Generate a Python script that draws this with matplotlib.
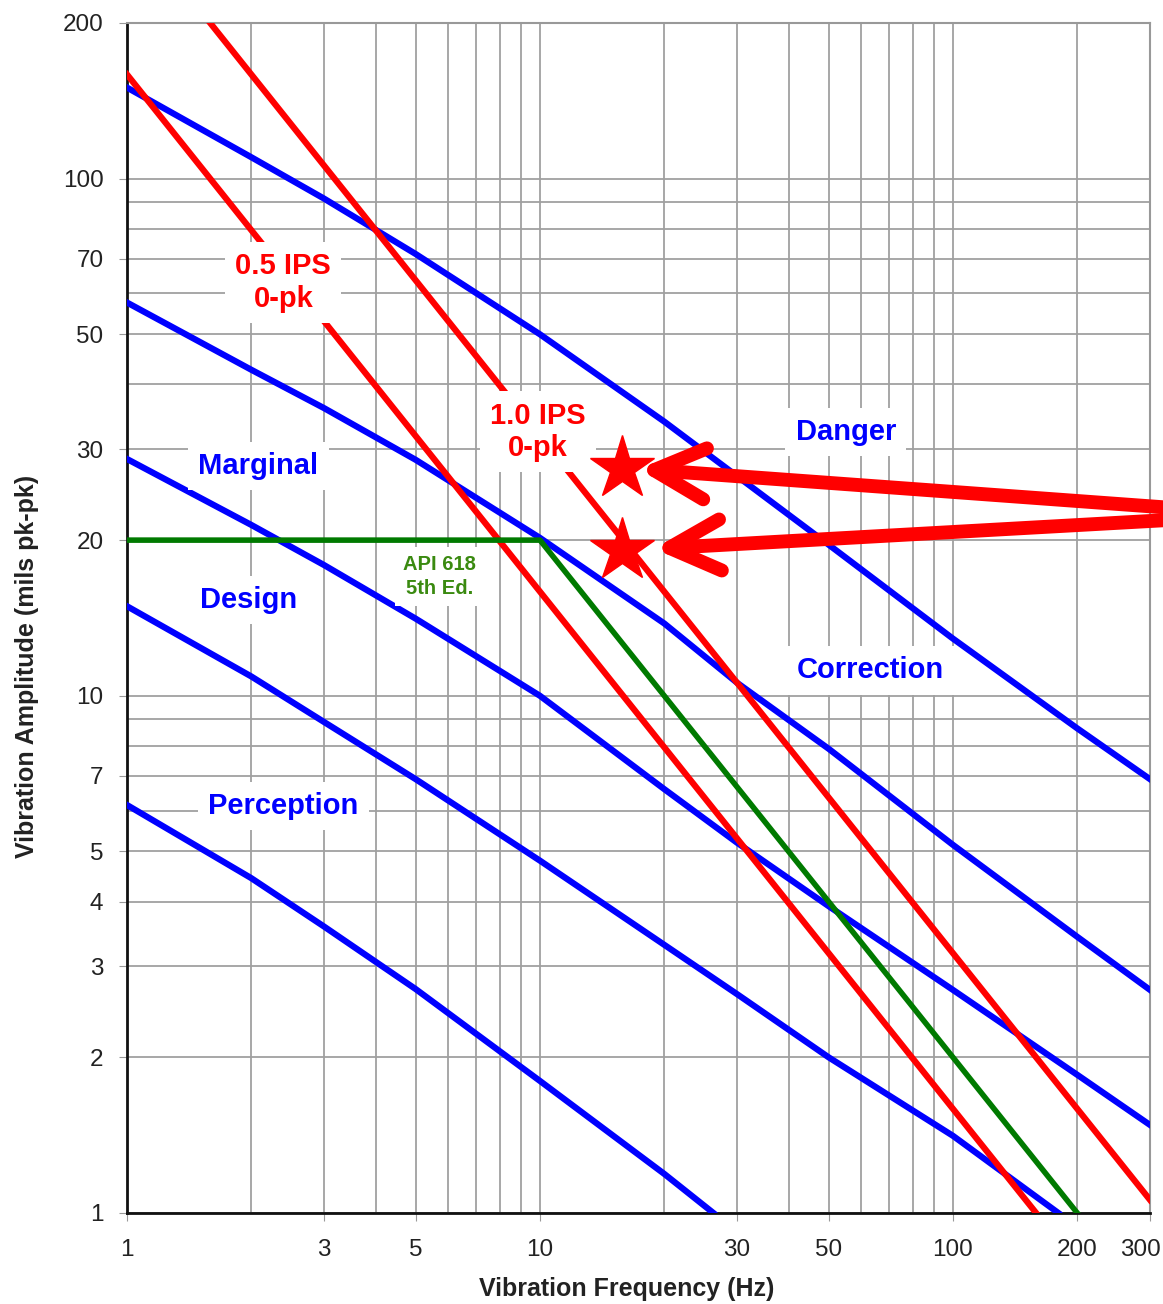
import matplotlib
matplotlib.use("Agg")
import matplotlib.pyplot as plt
import matplotlib.transforms as mtransforms
from matplotlib.ticker import FixedLocator, NullFormatter

plt.rcParams["font.family"] = ["Liberation Sans", "DejaVu Sans"]

# severity boundaries (blue): frequency (Hz) -> mils pk-pk
f_danger = [1, 2, 3, 5, 10, 20, 30, 50, 100, 200, 300]
d_danger = [150, 110, 91.5, 71.5, 50, 33.9, 26.6, 19.6, 12.9, 8.65, 6.9]
f_correction = [1, 2, 3, 5, 10, 20, 30, 50, 100, 200, 300]
d_correction = [57.6, 42.7, 36, 28.6, 20.2, 13.8, 10.6, 7.9, 5.15, 3.42, 2.7]
f_marginal = [1, 2, 3, 5, 10, 20, 30, 50, 100, 200, 300]
d_marginal = [28.7, 21.4, 17.9, 14.1, 10.0, 6.6, 5.2, 3.92, 2.70, 1.85, 1.48]
f_design = [1, 2, 3, 5, 10, 20, 30, 50, 100, 180]
d_design = [14.9, 10.9, 8.9, 6.9, 4.8, 3.3, 2.65, 2.0, 1.41, 1.0]
f_perception = [1, 2, 3, 5, 10, 20, 26.3]
d_perception = [6.15, 4.44, 3.58, 2.71, 1.80, 1.19, 1.0]

# constant velocity lines (red)
f_ips05 = [1, 159]
d_ips05 = [159, 1]
f_ips10 = [1.59, 300]
d_ips10 = [200, 1.06]

# API 618 limit (green)
f_api = [1, 10, 200]
d_api = [20, 20, 1]

# marked points
star_f = [15.8, 15.8]
star_d = [27.6, 19.1]

xticks = [1, 3, 5, 10, 30, 50, 100, 200, 300]
yticks = [1, 2, 3, 4, 5, 7, 10, 20, 30, 50, 70, 100, 200]

fig = plt.figure(figsize=(11.63, 13.04), dpi=100)
ax = fig.add_axes([0.1092, 0.0698, 0.8796, 0.9126])
ax.set_xscale("log")
ax.set_yscale("log")
ax.set_xlim(1, 300)
ax.set_ylim(1, 200)

grid_vals = [m * 10 ** e for e in range(0, 3) for m in range(1, 10)]
ax.xaxis.set_major_locator(FixedLocator(xticks))
ax.xaxis.set_minor_locator(FixedLocator(grid_vals))
ax.yaxis.set_major_locator(FixedLocator(yticks))
ax.yaxis.set_minor_locator(FixedLocator(grid_vals))
ax.set_xticklabels([str(t) for t in xticks])
ax.set_yticklabels([str(t) for t in yticks])
ax.xaxis.set_minor_formatter(NullFormatter())
ax.yaxis.set_minor_formatter(NullFormatter())
ax.tick_params(which="major", length=6, color="#999999", labelsize=17.5,
               labelcolor="#222222")
ax.tick_params(axis="x", which="major", pad=13)
ax.tick_params(axis="y", which="major", pad=11)
ax.tick_params(which="minor", length=0)
ax.grid(which="both", color="#a0a0a0", linewidth=1.3)
ax.set_axisbelow(True)

# last x label sits a bit left so it stays inside the figure
lab = ax.get_xticklabels()[-1]
lab.set_transform(lab.get_transform() +
                  mtransforms.ScaledTranslation(-10 / 100, 0, fig.dpi_scale_trans))

for s in ["top", "right"]:
    ax.spines[s].set_color("#999999")
    ax.spines[s].set_linewidth(1.5)
for s in ["left", "bottom"]:
    ax.spines[s].set_color("#111111")
    ax.spines[s].set_linewidth(2)

lw = 4.5
ax.plot(f_danger, d_danger, color="#0000ff", lw=lw, zorder=3)
ax.plot(f_correction, d_correction, color="#0000ff", lw=lw, zorder=3)
ax.plot(f_marginal, d_marginal, color="#0000ff", lw=lw, zorder=3)
ax.plot(f_design, d_design, color="#0000ff", lw=lw, zorder=3)
ax.plot(f_perception, d_perception, color="#0000ff", lw=lw, zorder=3)
ax.plot(f_ips05, d_ips05, color="#ff0000", lw=lw, zorder=3)
ax.plot(f_ips10, d_ips10, color="#ff0000", lw=lw, zorder=3)
ax.plot(f_api, d_api, color="#007a00", lw=4, zorder=3)

box = dict(boxstyle="square,pad=0.35", fc="white", ec="none")
zone_kw = dict(color="#0000ff", fontsize=21, fontweight="bold",
               ha="center", va="center", bbox=box, zorder=4)
ax.text(55, 32.4, "Danger", **zone_kw)
ax.text(63, 11.2, "Correction", **zone_kw)
ax.text(2.08, 27.8, "Marginal", **zone_kw)
ax.text(1.97, 15.3, "Design", **zone_kw)
ax.text(2.39, 6.13, "Perception", **zone_kw)

ips_kw = dict(color="#ff0000", fontsize=21, fontweight="bold", ha="center",
              va="center", linespacing=1.2,
              bbox=dict(boxstyle="square,pad=0.35", fc="white", ec="none"),
              zorder=4)
ax.text(2.39, 63, "0.5 IPS\n0-pk", **ips_kw)
ax.text(9.9, 32.4, "1.0 IPS\n0-pk", **ips_kw)
ax.text(5.72, 17.0, "API 618\n5th Ed.", color="#3a8a10", fontsize=14.5,
        fontweight="bold", ha="center", va="center", linespacing=1.35,
        bbox=dict(boxstyle="square,pad=0.4", fc="white", ec="none"), zorder=4)

ax.plot(star_f, star_d, ls="none", marker="*", ms=48, color="#ff0000",
        mec="#ff0000", zorder=6, clip_on=False)

tails = [(1.0, 0.611), (1.0, 0.601)]
shrinks = [12, 23]
for f, d, tail, sh in zip(star_f, star_d, tails, shrinks):
    ax.annotate("", xy=(f, d), xycoords="data", xytext=tail,
                textcoords="figure fraction", annotation_clip=False,
                arrowprops=dict(arrowstyle="->,head_length=0.4,head_width=0.2",
                                mutation_scale=92, color="#ff0000", lw=10,
                                shrinkA=0, shrinkB=sh, capstyle="round",
                                joinstyle="round"), zorder=7)

ax.set_xlabel("Vibration Frequency (Hz)", fontsize=18, fontweight="bold",
              color="#222222")
ax.set_ylabel("Vibration Amplitude (mils pk-pk)", fontsize=18,
              fontweight="bold", color="#222222")
ax.xaxis.set_label_coords(0.488, -0.054)
ax.yaxis.set_label_coords(-0.086, 0.459)

fig.savefig("out.png", dpi=100)
